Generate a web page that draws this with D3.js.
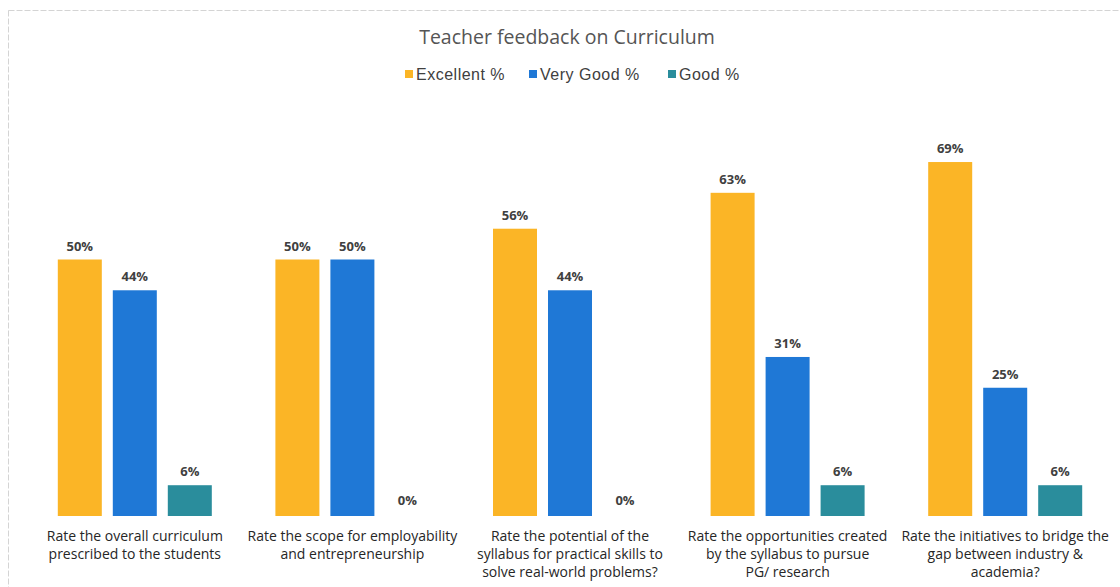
<!DOCTYPE html>
<html>
<head>
<meta charset="utf-8">
<script src="https://d3js.org/d3.v7.min.js"></script>
<style>
  body { margin: 0; background: #fff; }
  svg { display: block; }
</style>
</head>
<body>
<div id="chart"></div>
<script>
// ---------------- data ----------------
var categories = [
  ["Rate the overall curriculum", "prescribed to the students"],
  ["Rate the scope for employability", "and entrepreneurship"],
  ["Rate the potential of the", "syllabus for practical skills to", "solve real-world problems?"],
  ["Rate the opportunities created", "by the syllabus to pursue", "PG/ research"],
  ["Rate the initiatives to bridge the", "gap between industry &", "academia?"]
];
var seriesNames = ["Excellent %", "Very Good %", "Good %"];
var excellent = [50, 50, 56, 63, 69];
var veryGood = [44, 50, 44, 31, 25];
var good = [6, 0, 0, 6, 6];

var colors = ["#fbb526", "#1f78d6", "#2a8d9c"];

// ---------------- canvas ----------------
var width = 1120, height = 587;
var margin = {left: 26, right: 6, top: 3, bottom: 71};

var svg = d3.select("#chart").append("svg")
  .attr("width", width)
  .attr("height", height);

// faint frame of the scanned chart
svg.append("rect")
  .attr("x", 8.5).attr("y", 10.5)
  .attr("width", width + 20).attr("height", height + 20)
  .attr("fill", "none")
  .attr("stroke", "#d4d4d4")
  .attr("stroke-dasharray", "6,2");

var baseline = height - margin.bottom; // 516

// ---------------- scales ----------------
var x0 = d3.scaleBand()
  .domain(d3.range(categories.length))
  .range([margin.left, width - margin.right])
  .paddingInner(0).paddingOuter(0);

var x1 = d3.scaleBand()
  .domain(d3.range(seriesNames.length))
  .range([x0.bandwidth() / 2 - 77, x0.bandwidth() / 2 + 77])
  .paddingInner(0.2).paddingOuter(0);

var y = d3.scaleLinear()
  .domain([0, 100])
  .range([baseline, baseline - 513]);

var rows = categories.map(function(c, i) {
  return [excellent[i], veryGood[i], good[i]];
});

// ---------------- bars ----------------
var groups = svg.selectAll("g.group")
  .data(rows)
  .enter().append("g")
  .attr("class", "group")
  .attr("transform", function(d, i) { return "translate(" + x0(i) + ",0)"; });

groups.selectAll("rect")
  .data(function(d) { return d; })
  .enter().append("rect")
  .attr("x", function(d, j) { return x1(j); })
  .attr("y", function(d) { return y(d); })
  .attr("width", x1.bandwidth())
  .attr("height", function(d) { return baseline - y(d); })
  .attr("fill", function(d, j) { return colors[j]; });

groups.selectAll("text.val")
  .data(function(d) { return d; })
  .enter().append("text")
  .attr("class", "val")
  .attr("x", function(d, j) { return x1(j) + x1.bandwidth() / 2; })
  .attr("y", function(d) { return y(d) - (d === 0 ? 11 : 9); })
  .attr("text-anchor", "middle")
  .style("font-family", "'Open Sans', sans-serif")
  .style("font-size", "13px")
  .style("font-weight", "bold")
  .style("fill", "#404040")
  .text(function(d) { return d + "%"; });

// ---------------- category labels ----------------
groups.append("text")
  .attr("text-anchor", "middle")
  .style("font-family", "'Open Sans', sans-serif")
  .style("font-size", "14px")
  .style("fill", "#262626")
  .selectAll("tspan")
  .data(function(d, i) { return categories[i]; })
  .enter().append("tspan")
  .attr("x", x0.bandwidth() / 2)
  .attr("y", function(d, k) { return baseline + 25 + k * 18; })
  .text(function(d) { return d; });

// ---------------- title ----------------
svg.append("text")
  .attr("x", 567)
  .attr("y", 44)
  .attr("text-anchor", "middle")
  .style("font-family", "'Open Sans', sans-serif")
  .style("font-size", "19.5px")
  .style("fill", "#555")
  .text("Teacher feedback on Curriculum");

// ---------------- legend ----------------
var legendX = [405, 529, 668];
var legend = svg.selectAll("g.legend")
  .data(seriesNames)
  .enter().append("g")
  .attr("class", "legend")
  .attr("transform", function(d, i) { return "translate(" + legendX[i] + ",75)"; });

legend.append("rect")
  .attr("x", 0).attr("y", -5)
  .attr("width", 8).attr("height", 8)
  .attr("fill", function(d, i) { return colors[i]; });

legend.append("text")
  .attr("x", 11)
  .attr("y", 5)
  .style("font-family", "'Liberation Sans', Arial, sans-serif")
  .style("font-size", "16px")
  .style("letter-spacing", "0.5px")
  .style("fill", "#404040")
  .text(function(d) { return d; });
</script>
</body>
</html>
